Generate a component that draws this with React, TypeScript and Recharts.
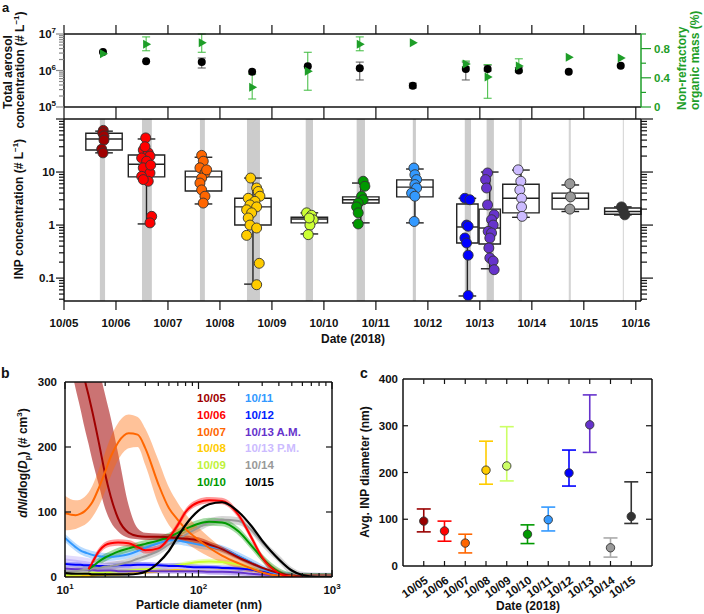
import React from 'react';
import { ComposedChart, Scatter, XAxis, YAxis, ReferenceArea, ReferenceLine, ErrorBar, Line, Area } from 'recharts';

const FONT = '"Liberation Sans", Arial, Helvetica, sans-serif';
const W = 704;
const H = 614;
const GREEN = '#1E9E28';

// ---------------- Panel a : date axis ----------------
const dateTicks = [5, 6, 7, 8, 9, 10, 11, 12, 13, 14, 15, 16];
const dateTickLabels = ['10/05', '10/06', '10/07', '10/08', '10/09', '10/10', '10/11', '10/12', '10/13', '10/14', '10/15', '10/16'];

// ---------------- Panel a (top): total aerosol & organic fraction ----------------
const aerosolTime = [5.75, 6.58, 7.65, 8.62, 9.69, 10.69, 11.71, 12.73, 13.15, 13.75, 14.71, 15.71];
const totalAerosol = [3.2e6, 1.8e6, 1.7e6, 9.2e5, 1.3e6, 1.15e6, 3.8e5, 1.1e6, 1.1e6, 1.0e6, 9.2e5, 1.35e6];
const totalAerosolLo = [null, null, 1.17e6, null, null, 5.5e5, 3.3e5, 5.5e5, 9.7e5, 9.0e5, null, null];
const totalAerosolHi = [null, null, 2.2e6, null, null, 1.7e6, 4.5e5, 1.7e6, 1.4e6, 1.2e6, null, null];
const organicFrac = [0.73, 0.86, 0.88, 0.27, 0.49, 0.86, 0.88, 0.59, 0.41, 0.56, 0.68, 0.67];
const organicLo = [null, 0.77, 0.75, 0.11, 0.23, 0.77, null, 0.55, 0.12, 0.49, null, null];
const organicHi = [null, 0.96, 1.0, 0.45, 0.75, 0.96, null, 0.63, 0.58, 0.66, null, null];

// ---------------- Panel a (bottom): INP box plots ----------------
const inpColors = ['#A00000', '#FF0000', '#FF6600', '#FFCC00', '#CCFF33', '#009900', '#3399FF', '#0000FF', '#6633CC', '#CCBBFF', '#999999', '#333333'];
const sampleStart = [5.69, 6.5, 7.615, 8.52, 9.65, 10.63, 11.71, 12.71, 13.13, 13.75, 14.71, 15.75];
const sampleEnd = [5.79, 6.69, 7.71, 8.77, 9.79, 10.79, 11.77, 12.83, 13.27, 13.81, 14.75, 15.77];
const boxCenter = [5.77, 6.587, 7.683, 8.635, 9.72, 10.71, 11.75, 12.76, 13.19, 13.79, 14.74, 15.75];
const boxQ1 = [26, 8.1, 4.4, 1.0, 1.1, 2.6, 3.4, 0.46, 0.44, 1.7, 2.0, 1.6];
const boxMed = [42, 14, 8.1, 2.2, 1.3, 3.0, 5.2, 0.92, 0.88, 3.2, 3.2, 1.8];
const boxQ3 = [54, 21, 10.4, 3.2, 1.4, 3.4, 7.1, 2.5, 2.0, 5.9, 4.0, 2.1];
const whiskLo = [23, 1.05, 2.5, 0.077, 0.68, 1.1, 1.1, 0.046, 0.15, 1.4, 1.8, 1.55];
const whiskHi = [59, 42, 19, 7.7, 1.7, 6.2, 11.4, 3.2, 10, 10.9, 5.7, 2.2];
const inpTimes = [
  [5.756, 5.744, 5.769, 5.769, 5.725, 5.75],
  [6.571, 6.525, 6.621, 6.654, 6.494, 6.59, 6.525, 6.654, 6.494, 6.621, 6.525, 6.687, 6.654, 6.667, 6.558],
  [7.648, 7.679, 7.615, 7.712, 7.648, 7.615, 7.648, 7.712, 7.679, 7.744],
  [8.59, 8.706, 8.737, 8.769, 8.544, 8.673, 8.577, 8.706, 8.513, 8.61, 8.544, 8.577, 8.706, 8.513, 8.756, 8.706],
  [9.667, 9.763, 9.794, 9.731, 9.698, 9.717],
  [10.756, 10.788, 10.725, 10.756, 10.66, 10.629, 10.66, 10.66],
  [11.731, 11.75, 11.783, 11.75, 11.783, 11.687, 11.75, 11.737],
  [12.712, 12.808, 12.744, 12.775, 12.712, 12.744, 12.775, 12.775],
  [13.148, 13.11, 13.129, 13.148, 13.275, 13.225, 13.256, 13.16, 13.225, 13.192, 13.173, 13.192, 13.256, 13.275],
  [13.737, 13.788, 13.769, 13.802, 13.802, 13.813],
  [14.731, 14.744, 14.731],
  [15.725, 15.756, 15.788],
];
const inpValues = [
  [61, 55, 48, 40, 27, 23],
  [44, 26, 23, 20, 18.4, 16, 12, 9.6, 8.3, 6.7, 7.2, 1.46, 1.1, 13.5, 30],
  [20.6, 16, 12, 9.6, 7.7, 6.2, 4.6, 3.5, 2.6, 11],
  [7.7, 5.0, 4.3, 3.5, 3.2, 2.8, 2.4, 2.2, 1.94, 1.7, 1.36, 1.0, 0.88, 0.64, 0.19, 0.075],
  [1.7, 1.53, 1.26, 1.0, 0.66, 1.36],
  [6.7, 5.4, 3.5, 3.0, 2.6, 2.2, 1.7, 1.05],
  [11.9, 8.9, 7.2, 5.8, 5.0, 4.0, 3.5, 1.17],
  [3.2, 3.0, 1.0, 0.95, 0.57, 0.46, 0.27, 0.047],
  [9.6, 7.2, 5.0, 2.4, 1.56, 1.26, 1.0, 0.76, 0.71, 0.57, 0.37, 0.24, 0.21, 0.144],
  [11, 6.7, 4.6, 3.2, 2.2, 1.46],
  [6.0, 3.4, 2.0],
  [2.2, 1.94, 1.56],
];
const inpLogTicks = [0.04, 0.05, 0.06, 0.07, 0.08, 0.09, 0.1, 0.2, 0.3, 0.4, 0.5, 0.6, 0.7, 0.8, 0.9, 1, 2, 3, 4, 5, 6, 7, 8, 9, 10, 20, 30, 40, 50, 60, 70, 80, 90, 100];
const aerosolLogTicks = [1e5, 2e5, 3e5, 4e5, 5e5, 6e5, 7e5, 8e5, 9e5, 1e6, 2e6, 3e6, 4e6, 5e6, 6e6, 7e6, 8e6, 9e6, 1e7];
const organicTicks = [0, 0.2, 0.4, 0.6, 0.8, 1.0];

// ---------------- Panel b : size distributions ----------------
const dpGrid = [10, 12, 13, 14, 15, 16, 18, 20, 22, 25, 30, 35, 40, 50, 60, 70, 80, 100, 120, 150, 200, 250, 300, 400, 500, 600, 800, 1000];
const d05 = [480, 390, 340, 305, 280, 255, 205, 158, 124, 90, 68, 63, 62, 62, 61, 60, 59, 56, 50, 43, 30, 21, 14, 6, 2, 1, 0, 0];
const d05Lo = [370, 290, 260, 230, 205, 180, 140, 105, 85, 70, 60, 58, 57, 57, 56, 55, 54, 51, 45, 39, 27, 18, 12, 5, 1, 0.5, 0, 0];
const d05Hi = [600, 520, 470, 430, 400, 370, 320, 280, 245, 190, 110, 75, 68, 67, 66, 65, 64, 61, 55, 47, 34, 24, 16, 7, 3, 1.5, 0.5, 0];
const d06 = [null, null, null, null, 12, 22, 40, 49, 52, 53, 52, 46, 41, 44, 60, 80, 100, 115, 118, 117, 95, 60, 30, 6, 0, 0, 0, 0];
const d07 = [98, 95, 97, 101, 107, 115, 138, 162, 185, 207, 221, 219, 198, 143, 106, 88, 74, 57, 45, 33, 21, 13, 7, 2, 1, 0, 0, 0];
const d07Lo = [72, 74, 77, 80, 85, 92, 110, 132, 155, 180, 198, 200, 172, 112, 80, 64, 53, 40, 31, 22, 13, 7, 3, 1, 0, 0, 0, 0];
const d07Hi = [125, 118, 119, 123, 130, 140, 166, 192, 215, 237, 250, 246, 228, 180, 138, 114, 97, 76, 61, 45, 30, 19, 11, 4, 2, 1, 0, 0];
const d08 = [1, 1, 1, 2, 2, 2, 3, 3, 4, 4, 5, 6, 7, 9, 10, 11, 11, 11, 11, 10, 8, 6, 4, 1, 0, 0, 0, 0];
const d09 = [3, 4, 4, 5, 5, 6, 6, 7, 8, 9, 10, 11, 12, 14, 16, 18, 20, 23, 24, 23, 19, 13, 8, 2, 0, 0, 0, 0];
const d10 = [null, null, null, null, 12, 16, 24, 30, 34, 39, 44, 48, 51, 56, 62, 68, 74, 82, 85, 84, 70, 48, 29, 8, 1, 0, 0, 0];
const d11 = [60, 46, 41, 38, 36, 34, 32, 31, 31, 32, 35, 40, 45, 52, 56, 56, 54, 50, 47, 43, 32, 22, 13, 4, 1, 0, 0, 0];
const d12 = [20, 19, 19, 18, 18, 18, 17, 17, 17, 18, 18, 19, 19, 18, 17, 17, 16, 15, 15, 14, 13, 11, 8, 3, 1, 0, 0, 0];
const d13a = [13, 12, 12, 11, 11, 11, 10, 10, 10, 9, 9, 9, 9, 9, 9, 9, 9, 9, 8, 8, 7, 5, 4, 2, 1, 0, 0, 0];
const d13p = [27, 25, 24, 23, 22, 21, 20, 19, 18, 18, 17, 16, 16, 15, 14, 14, 13, 12, 11, 10, 8, 6, 4, 1, 0, 0, 0, 0];
const d14 = [8, 9, 10, 11, 12, 13, 14, 16, 17, 19, 23, 28, 32, 40, 50, 58, 65, 76, 84, 88, 86, 72, 53, 28, 9, 2, 0, 0];
const d15 = [6, 5, 5, 5, 5, 4, 4, 4, 4, 4, 4, 5, 8, 22, 40, 62, 80, 102, 112, 115, 100, 78, 56, 27, 10, 3, 0, 0];

type SizeSeries = { key: string; name: string; values: (number | null)[]; lo?: number[]; hi?: number[]; half: number; color: string; bandOpacity: number; width: number };
const sizeSeries: SizeSeries[] = [
  { key: 'd08', name: '10/08', values: d08, half: 2, color: '#FFCC00', bandOpacity: 0.35, width: 2 },
  { key: 'd09', name: '10/09', values: d09, half: 4, color: '#CCFF33', bandOpacity: 0.4, width: 2 },
  { key: 'd13p', name: '10/13 P.M.', values: d13p, half: 7, color: '#C8B8FA', bandOpacity: 0.5, width: 2 },
  { key: 'd13a', name: '10/13 A.M.', values: d13a, half: 4, color: '#6633CC', bandOpacity: 0.3, width: 2 },
  { key: 'd12', name: '10/12', values: d12, half: 4, color: '#0000FF', bandOpacity: 0.25, width: 2 },
  { key: 'd11', name: '10/11', values: d11, half: 6, color: '#3399FF', bandOpacity: 0.35, width: 2 },
  { key: 'd14', name: '10/14', values: d14, half: 6, color: '#999999', bandOpacity: 0.4, width: 2 },
  { key: 'd10', name: '10/10', values: d10, half: 6, color: '#009900', bandOpacity: 0.35, width: 2 },
  { key: 'd05', name: '10/05', values: d05, lo: d05Lo, hi: d05Hi, half: 0, color: '#A00000', bandOpacity: 0.55, width: 2 },
  { key: 'd07', name: '10/07', values: d07, lo: d07Lo, hi: d07Hi, half: 0, color: '#FF6600', bandOpacity: 0.4, width: 2 },
  { key: 'd06', name: '10/06', values: d06, half: 5, color: '#FF0000', bandOpacity: 0.4, width: 2 },
  { key: 'd15', name: '10/15', values: d15, half: 0, color: '#000000', bandOpacity: 0, width: 2.2 },
];
const sizeRows = dpGrid.map((dp, i) => {
  const r: any = { dp };
  sizeSeries.forEach((s) => {
    const v = s.values[i];
    r[s.key] = v;
    if (v == null) {
      r[s.key + 'b'] = null;
      return;
    }
    const lo = s.lo ? s.lo[i] : Math.max(0, v - s.half);
    const hi = s.hi ? s.hi[i] : v + s.half;
    r[s.key + 'b'] = [lo, hi];
  });
  return r;
});
const dpTicks = [10, 20, 30, 40, 50, 60, 70, 80, 90, 100, 200, 300, 400, 500, 600, 700, 800, 900, 1000];
const legendCol1 = [
  { t: '10/05', c: '#A00000' },
  { t: '10/06', c: '#FF0000' },
  { t: '10/07', c: '#FF6600' },
  { t: '10/08', c: '#FFCC00' },
  { t: '10/09', c: '#BFF23A' },
  { t: '10/10', c: '#009900' },
];
const legendCol2 = [
  { t: '10/11', c: '#3399FF' },
  { t: '10/12', c: '#0022FF' },
  { t: '10/13 A.M.', c: '#6633CC' },
  { t: '10/13 P.M.', c: '#CCBBFF' },
  { t: '10/14', c: '#999999' },
  { t: '10/15', c: '#000000' },
];

// ---------------- Panel c : average INP diameter ----------------
const cDates = ['10/05', '10/06', '10/07', '10/08', '10/09', '10/10', '10/11', '10/12', '10/13', '10/14', '10/15'];
const cAvg = [96, 75, 49, 205, 214, 68, 99, 199, 302, 39, 106];
const cLo = [73, 53, 28, 175, 182, 48, 75, 171, 243, 19, 91];
const cHi = [122, 96, 68, 267, 298, 88, 126, 248, 366, 60, 180];
const cColors = ['#990000', '#FF0000', '#FF6600', '#FFCC00', '#CCFF66', '#009900', '#3399FF', '#0000FF', '#6633CC', '#999999', '#333333'];
const cErrColors = ['#990000', '#FF0000', '#FF6600', '#FFCC00', '#CCFF66', '#009900', '#3399FF', '#0000FF', '#6633CC', '#AAAAAA', '#333333'];
const cTicksX = [0, 1, 2, 3, 4, 5, 6, 7, 8, 9, 10];
const cTicksY = [0, 100, 200, 300, 400];

// ---------------- helpers ----------------
const isPow10 = (v: number) => Math.abs(Math.log10(v) - Math.round(Math.log10(v))) < 1e-6;

type TickOpts = {
  dir: [number, number];
  len: (v: number) => number;
  stroke?: string;
  label?: (v: number) => React.ReactNode | null;
  lx?: number;
  ly?: number;
  anchor?: 'start' | 'middle' | 'end';
  fill?: string;
  rot?: number;
  fontSize?: number;
};
const mkTick = (o: TickOpts) => (p: any) => {
  const v = p.payload.value;
  const L = o.len(v);
  const lab = o.label ? o.label(v) : null;
  const tx = p.x + (o.lx || 0);
  const ty = p.y + (o.ly || 0);
  return (
    <g>
      {L > 0 && (
        <line x1={p.x} y1={p.y} x2={p.x + o.dir[0] * L} y2={p.y + o.dir[1] * L} stroke={o.stroke || '#111'} strokeWidth={1.2} />
      )}
      {lab != null && (
        <text
          x={tx}
          y={ty}
          textAnchor={o.anchor || 'middle'}
          fill={o.fill || '#111'}
          fontFamily={FONT}
          fontWeight="bold"
          fontSize={o.fontSize || 11.5}
          transform={o.rot ? `rotate(${o.rot},${tx},${ty})` : undefined}
        >
          {lab}
        </text>
      )}
    </g>
  );
};
const pow10 = (e: number) => (
  <>
    <tspan>10</tspan>
    <tspan dy={-5} fontSize={8}>
      {e}
    </tspan>
  </>
);
const frame = { stroke: '#111', strokeWidth: 1.5 };

// ---------------- Chart 1: total aerosol ----------------
function AerosolChart() {
  const blackData = aerosolTime.map((t, i) => ({
    x: t,
    y: totalAerosol[i],
    err: totalAerosolLo[i] == null ? null : [totalAerosol[i] - (totalAerosolLo[i] as number), (totalAerosolHi[i] as number) - totalAerosol[i]],
  }));
  const greenData = aerosolTime.map((t, i) => ({
    x: t,
    y: organicFrac[i],
    err: organicLo[i] == null ? null : [organicFrac[i] - (organicLo[i] as number), (organicHi[i] as number) - organicFrac[i]],
  }));
  return (
    <ComposedChart width={W} height={H} margin={{ top: 24, right: 23, bottom: 495, left: 24 }}>
      <XAxis xAxisId="b" type="number" dataKey="x" domain={[5, 16.1]} ticks={dateTicks} interval={0} allowDataOverflow orientation="bottom" height={12} tickSize={0} tickMargin={0} axisLine={frame} tick={mkTick({ dir: [0, 1], len: () => 12 })} />
      <XAxis xAxisId="t" type="number" dataKey="x" domain={[5, 16.1]} ticks={dateTicks} interval={0} allowDataOverflow orientation="top" height={10} tickSize={0} tickMargin={0} axisLine={frame} tick={mkTick({ dir: [0, -1], len: () => 9 })} />
      <YAxis yAxisId="l" type="number" dataKey="y" scale="log" domain={[1e5, 1e7]} allowDataOverflow ticks={aerosolLogTicks} interval={0} width={40} tickSize={0} tickMargin={0} axisLine={frame}
        tick={mkTick({ dir: [-1, 0], len: (v) => (isPow10(v) ? 8 : 5), stroke: '#888', label: (v) => (isPow10(v) ? pow10(Math.round(Math.log10(v))) : null), lx: -8, ly: 4, anchor: 'end' })} />
      <YAxis yAxisId="r" type="number" dataKey="y" orientation="right" domain={[0, 1]} allowDataOverflow ticks={organicTicks} interval={0} width={40} tickSize={0} tickMargin={0} axisLine={{ stroke: GREEN, strokeWidth: 1.5 }}
        tick={mkTick({ dir: [1, 0], len: (v) => ([0, 0.4, 0.8].some((m) => Math.abs(m - v) < 1e-6) ? 10 : 5), stroke: GREEN, fill: GREEN, label: (v) => ([0, 0.4, 0.8].some((m) => Math.abs(m - v) < 1e-6) ? (v === 0 ? '0' : String(v)) : null), lx: 13, ly: 4, anchor: 'start' })} />
      <Scatter xAxisId="b" yAxisId="l" data={blackData} isAnimationActive={false}
        shape={(p: any) => <circle cx={p.cx} cy={p.cy} r={4} fill="#000" />}>
        <ErrorBar dataKey="err" direction="y" width={4} stroke="#555" strokeWidth={1} isAnimationActive={false} />
      </Scatter>
      <Scatter xAxisId="b" yAxisId="r" data={greenData} isAnimationActive={false}
        shape={(p: any) => <polygon points={`${p.cx - 3},${p.cy - 4.5} ${p.cx - 3},${p.cy + 4.5} ${p.cx + 5},${p.cy}`} fill={GREEN} />}>
        <ErrorBar dataKey="err" direction="y" width={4} stroke="#3DBB3D" strokeWidth={1} isAnimationActive={false} />
      </Scatter>
    </ComposedChart>
  );
}

// ---------------- Chart 2: INP box plots ----------------
function InpChart() {
  const yLab = (v: number) => (v === 10 ? '10' : v === 1 ? '1' : v === 0.1 ? '0.1' : null);
  const pow = (v: number) => isPow10(v);
  return (
    <ComposedChart width={W} height={H} margin={{ top: 119, right: 27, bottom: 273, left: 28 }}>
      <XAxis xAxisId="b" type="number" dataKey="x" domain={[5, 16.1]} ticks={dateTicks} interval={0} allowDataOverflow height={40} tickSize={0} tickMargin={0} axisLine={frame}
        tick={mkTick({ dir: [0, 1], len: () => 9, label: (v) => dateTickLabels[dateTicks.indexOf(v)], ly: 26 })} />
      <YAxis yAxisId="l" type="number" dataKey="y" scale="log" domain={[0.037, 100]} allowDataOverflow ticks={inpLogTicks} interval={0} width={36} tickSize={0} tickMargin={0} axisLine={frame}
        tick={mkTick({ dir: [-1, 0], len: (v) => (pow(v) ? 8 : 5), label: yLab, lx: -9, ly: 4, anchor: 'end' })} />
      <YAxis yAxisId="r" type="number" dataKey="y" orientation="right" scale="log" domain={[0.037, 100]} allowDataOverflow ticks={inpLogTicks} interval={0} width={36} tickSize={0} tickMargin={0} axisLine={frame}
        tick={mkTick({ dir: [1, 0], len: (v) => (pow(v) ? 12 : 6) })} />
      <ReferenceLine xAxisId="b" yAxisId="l" y={100} stroke="#111" strokeWidth={1.5} />
      {sampleStart.map((s, i) => (
        <ReferenceArea key={'band' + i} xAxisId="b" yAxisId="l" x1={s} x2={sampleEnd[i]} y1={0.037} y2={100} fill={i >= 10 ? '#D4D4D4' : '#CCCCCC'} fillOpacity={1} stroke="none" />
      ))}
      {inpValues.map((vals, i) => (
        <Scatter key={'pts' + i} xAxisId="b" yAxisId="l" data={vals.map((v, j) => ({ x: inpTimes[i][j], y: v }))} isAnimationActive={false}
          shape={(p: any) => <circle cx={p.cx} cy={p.cy} r={5} fill={inpColors[i]} stroke="#333" strokeWidth={0.9} />} />
      ))}
      {boxCenter.map((c, i) => {
        const hw = i === 7 || i === 8 ? 0.205 : 0.35;
        const cap = 0.17;
        return (
          <React.Fragment key={'box' + i}>
            <ReferenceLine xAxisId="b" yAxisId="l" segment={[{ x: c, y: boxQ3[i] }, { x: c, y: whiskHi[i] }]} stroke="#222" strokeWidth={1.4} ifOverflow="visible" />
            <ReferenceLine xAxisId="b" yAxisId="l" segment={[{ x: c, y: boxQ1[i] }, { x: c, y: whiskLo[i] }]} stroke="#222" strokeWidth={1.4} ifOverflow="visible" />
            <ReferenceLine xAxisId="b" yAxisId="l" segment={[{ x: c - cap, y: whiskHi[i] }, { x: c + cap, y: whiskHi[i] }]} stroke="#222" strokeWidth={1.4} ifOverflow="visible" />
            <ReferenceLine xAxisId="b" yAxisId="l" segment={[{ x: c - cap, y: whiskLo[i] }, { x: c + cap, y: whiskLo[i] }]} stroke="#222" strokeWidth={1.4} ifOverflow="visible" />
            <ReferenceArea xAxisId="b" yAxisId="l" x1={c - hw} x2={c + hw} y1={boxQ1[i]} y2={boxQ3[i]} fill="none" fillOpacity={0} stroke="#222" strokeWidth={1.4} ifOverflow="visible" />
            <ReferenceLine xAxisId="b" yAxisId="l" segment={[{ x: c - hw, y: boxMed[i] }, { x: c + hw, y: boxMed[i] }]} stroke="#222" strokeWidth={1.4} ifOverflow="visible" />
          </React.Fragment>
        );
      })}
    </ComposedChart>
  );
}

// ---------------- Chart 3: size distributions ----------------
function SizeChart() {
  const xLab = (v: number) => (v === 10 ? pow10(1) : v === 100 ? pow10(2) : v === 1000 ? pow10(3) : null);
  const xLen = (v: number) => (isPow10(v) ? 7 : 4);
  return (
    <ComposedChart width={W} height={H} data={sizeRows} margin={{ top: 381, right: 371, bottom: 7, left: 35 }}>
      <XAxis xAxisId="b" type="number" dataKey="dp" scale="log" domain={[10, 1000]} allowDataOverflow ticks={dpTicks} interval={0} height={30} tickSize={0} tickMargin={0} axisLine={frame}
        tick={mkTick({ dir: [0, -1], len: xLen, label: xLab, ly: 17 })} />
      <XAxis xAxisId="t" type="number" dataKey="dp" scale="log" domain={[10, 1000]} allowDataOverflow ticks={dpTicks} interval={0} orientation="top" height={1} tickSize={0} tickMargin={0} axisLine={frame}
        tick={mkTick({ dir: [0, 1], len: xLen })} />
      <YAxis yAxisId="l" type="number" domain={[0, 300]} allowDataOverflow ticks={[0, 100, 200, 300]} interval={0} width={30} tickSize={0} tickMargin={0} axisLine={frame}
        tick={mkTick({ dir: [1, 0], len: (v) => (v === 100 || v === 200 ? 6 : 0), label: (v) => String(v), lx: -8, ly: 4, anchor: 'end' })} />
      <YAxis yAxisId="r" type="number" orientation="right" domain={[0, 300]} allowDataOverflow ticks={[100, 200]} interval={0} width={1} tickSize={0} tickMargin={0} axisLine={frame}
        tick={mkTick({ dir: [-1, 0], len: () => 6 })} />
      {sizeSeries.filter((s) => s.bandOpacity > 0).map((s) => (
        <Area key={s.key + 'b'} xAxisId="b" yAxisId="l" dataKey={s.key + 'b'} type="monotone" stroke="none" fill={s.color} fillOpacity={s.bandOpacity} isAnimationActive={false} dot={false} activeDot={false} />
      ))}
      {sizeSeries.map((s) => (
        <Line key={s.key} xAxisId="b" yAxisId="l" dataKey={s.key} type="monotone" stroke={s.color} strokeWidth={s.width} dot={false} activeDot={false} isAnimationActive={false} />
      ))}
    </ComposedChart>
  );
}

// ---------------- Chart 4: avg INP diameter ----------------
function DiameterChart() {
  return (
    <ComposedChart width={W} height={H} margin={{ top: 378, right: 51, bottom: 8, left: 373 }}>
      <XAxis xAxisId="b" type="number" dataKey="i" domain={[-1, 11]} allowDataOverflow ticks={cTicksX} interval={0} height={40} tickSize={0} tickMargin={0} axisLine={frame}
        tick={mkTick({ dir: [0, -1], len: () => 5, label: (v) => cDates[v], lx: 5, ly: 16, anchor: 'end', rot: -35 })} />
      <XAxis xAxisId="t" type="number" dataKey="i" domain={[-1, 11]} allowDataOverflow ticks={cTicksX} interval={0} orientation="top" height={1} tickSize={0} tickMargin={0} axisLine={frame}
        tick={mkTick({ dir: [0, 1], len: () => 5 })} />
      <YAxis yAxisId="l" type="number" dataKey="y" domain={[0, 400]} allowDataOverflow ticks={cTicksY} interval={0} width={30} tickSize={0} tickMargin={0} axisLine={frame}
        tick={mkTick({ dir: [1, 0], len: (v) => (v > 0 && v < 400 ? 5 : 0), label: (v) => String(v), lx: -5, ly: 4, anchor: 'end' })} />
      <YAxis yAxisId="r" type="number" dataKey="y" orientation="right" domain={[0, 400]} allowDataOverflow ticks={[100, 200, 300]} interval={0} width={1} tickSize={0} tickMargin={0} axisLine={frame}
        tick={mkTick({ dir: [-1, 0], len: () => 6 })} />
      {cAvg.map((v, i) => (
        <Scatter key={'c' + i} xAxisId="b" yAxisId="l" data={[{ i, y: v, err: [v - cLo[i], cHi[i] - v] }]} isAnimationActive={false}
          shape={(p: any) => <circle cx={p.cx} cy={p.cy} r={4.2} fill={cColors[i]} stroke="#333" strokeWidth={0.9} />}>
          <ErrorBar dataKey="err" direction="y" width={7} stroke={cErrColors[i]} strokeWidth={1.6} isAnimationActive={false} />
        </Scatter>
      ))}
    </ComposedChart>
  );
}

// ---------------- Text overlay ----------------
function Overlay() {
  const t = { fontFamily: FONT, fontWeight: 'bold' as const, fill: '#111' };
  const sup = (s: string) => (
    <>
      <tspan dy={-5} fontSize={8}>{s}</tspan>
      <tspan dy={5}>)</tspan>
    </>
  );
  return (
    <svg width={W} height={H} style={{ position: 'absolute', left: 0, top: 0, pointerEvents: 'none' }}>
      <text x={2} y={12} fontSize={13} {...t}>a</text>
      <text x={1} y={378} fontSize={14} {...t}>b</text>
      <text x={360} y={378} fontSize={14} {...t}>c</text>

      <text x={12} y={72} fontSize={12} textAnchor="middle" transform="rotate(-90,12,72)" {...t}>Total aerosol</text>
      <text x={24} y={70} fontSize={12} textAnchor="middle" transform="rotate(-90,24,70)" {...t}>concentration (# L{sup('−1')}</text>
      <text x={686} y={110} fontSize={12} textAnchor="start" transform="rotate(-90,686,110)" {...t} fill={GREEN}>Non-refractory</text>
      <text x={699} y={110} fontSize={12} textAnchor="start" transform="rotate(-90,699,110)" {...t} fill={GREEN}>organic mass (%)</text>
      <text x={23} y={209} fontSize={12} textAnchor="middle" transform="rotate(-90,23,209)" {...t}>INP concentration (# L{sup('−1')}</text>
      <text x={353} y={343} fontSize={12} textAnchor="middle" {...t}>Date (2018)</text>

      <text x={27} y={463} fontSize={12} textAnchor="middle" transform="rotate(-90,27,463)" {...t}>
        <tspan fontStyle="italic">dN</tspan>/<tspan fontStyle="italic">d</tspan>log(<tspan fontStyle="italic">D</tspan>
        <tspan dy={3} fontSize={8}>p</tspan>
        <tspan dy={-3}>) (# cm</tspan>
        <tspan dy={-5} fontSize={8}>3</tspan>
        <tspan dy={5}>)</tspan>
      </text>
      <text x={199} y={609} fontSize={12} textAnchor="middle" {...t}>Particle diameter (nm)</text>
      {legendCol1.map((e, i) => (
        <text key={'l1' + i} x={197} y={402 + i * 16.8} fontSize={11.5} {...t} fill={e.c}>{e.t}</text>
      ))}
      {legendCol2.map((e, i) => (
        <text key={'l2' + i} x={245} y={402 + i * 16.8} fontSize={11.5} {...t} fill={e.c}>{e.t}</text>
      ))}

      <text x={369} y={472} fontSize={12} textAnchor="middle" transform="rotate(-90,369,472)" {...t}>Avg. INP diameter (nm)</text>
      <text x={528} y={610} fontSize={12} textAnchor="middle" {...t}>Date (2018)</text>
    </svg>
  );
}

export default function App() {
  const layer: React.CSSProperties = { position: 'absolute', left: 0, top: 0 };
  return (
    <div style={{ position: 'absolute', left: 0, top: 0, width: W, height: H, background: '#fff', overflow: 'hidden' }}>
      <div style={layer}><AerosolChart /></div>
      <div style={layer}><InpChart /></div>
      <div style={layer}><SizeChart /></div>
      <div style={layer}><DiameterChart /></div>
      <Overlay />
    </div>
  );
}
